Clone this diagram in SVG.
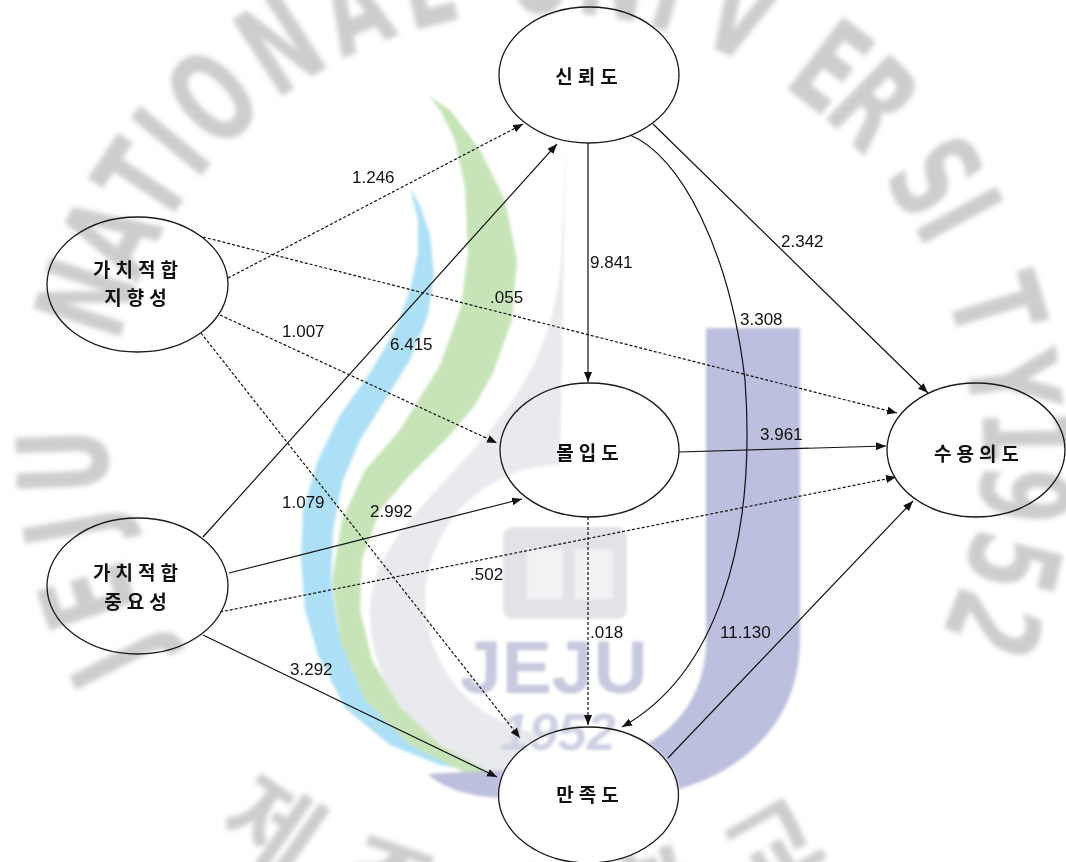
<svg xmlns="http://www.w3.org/2000/svg" width="1066" height="862" viewBox="0 0 1066 862">
  <defs>
    <marker id="arrow" markerUnits="userSpaceOnUse" markerWidth="11" markerHeight="9" refX="10" refY="4" orient="auto">
      <path d="M0,0 L10,4 L0,8 Z" fill="#111"/>
    </marker>
    <filter id="blurRing" x="-20%" y="-20%" width="140%" height="140%">
      <feGaussianBlur stdDeviation="2.8"/>
    </filter>
    <filter id="blurLogo" x="-10%" y="-10%" width="120%" height="120%">
      <feGaussianBlur stdDeviation="1.4"/>
    </filter>
  </defs>
  <style>
    .node ellipse { fill: none; stroke: #1a1a1a; stroke-width: 1.3; }
    .node text { font-family: "Noto Sans CJK KR", "Liberation Sans", sans-serif; font-size: 19px; font-weight: bold; fill: #111; text-anchor: middle; letter-spacing: 5px; }
    .edge { fill: none; stroke: #111; stroke-width: 1.2; marker-end: url(#arrow); }
    .dash { stroke-dasharray: 3 2; }
    .lbl { font-family: "Liberation Sans", Arial, sans-serif; font-size: 17px; fill: #111; }
    .ring { font-family: "DejaVu Sans Condensed", "Liberation Sans", Arial, sans-serif; font-weight: bold; font-size: 125px; fill: #cdcdcd; text-anchor: middle; }
    .ringKo { font-family: "Noto Sans CJK KR", sans-serif; font-weight: bold; font-size: 100px; fill: #cdcdcd; text-anchor: middle; }
  </style>

  <rect width="1066" height="862" fill="#ffffff"/>

  <!-- university seal in the background -->
  <g id="seal">
    <g id="seal-ring" filter="url(#blurRing)">
      <text class="ring" transform="rotate(243 540 445) translate(540 -33) scale(0.72 1)" y="45">J</text>
      <text class="ring" transform="rotate(251.5 540 445) translate(540 -33) scale(0.72 1)" y="45">E</text>
      <text class="ring" transform="rotate(260 540 445) translate(540 -33) scale(0.72 1)" y="45">J</text>
      <text class="ring" transform="rotate(268 540 445) translate(540 -33) scale(0.72 1)" y="45">U</text>
      <text class="ring" transform="rotate(288 540 445) translate(540 -33) scale(0.72 1)" y="45">N</text>
      <text class="ring" transform="rotate(296 540 445) translate(540 -33) scale(0.72 1)" y="45">A</text>
      <text class="ring" transform="rotate(303.5 540 445) translate(540 -33) scale(0.72 1)" y="45">T</text>
      <text class="ring" transform="rotate(309.5 540 445) translate(540 -33) scale(0.72 1)" y="45">I</text>
      <text class="ring" transform="rotate(316.7 540 445) translate(540 -33) scale(0.72 1)" y="45">O</text>
      <text class="ring" transform="rotate(327 540 445) translate(540 -33) scale(0.72 1)" y="45">N</text>
      <text class="ring" transform="rotate(337 540 445) translate(540 -33) scale(0.72 1)" y="45">A</text>
      <text class="ring" transform="rotate(346 540 445) translate(540 -33) scale(0.72 1)" y="45">L</text>
      <text class="ring" transform="rotate(0 540 445) translate(540 -33) scale(0.72 1)" y="45">U</text>
      <text class="ring" transform="rotate(9 540 445) translate(540 -33) scale(0.72 1)" y="45">N</text>
      <text class="ring" transform="rotate(16 540 445) translate(540 -33) scale(0.72 1)" y="45">I</text>
      <text class="ring" transform="rotate(25 540 445) translate(540 -33) scale(0.72 1)" y="45">V</text>
      <text class="ring" transform="rotate(37.5 540 445) translate(540 -33) scale(0.72 1)" y="45">E</text>
      <text class="ring" transform="rotate(44.4 540 445) translate(540 -33) scale(0.72 1)" y="45">R</text>
      <text class="ring" transform="rotate(55.8 540 445) translate(540 -33) scale(0.72 1)" y="45">S</text>
      <text class="ring" transform="rotate(61.3 540 445) translate(540 -33) scale(0.72 1)" y="45">I</text>
      <text class="ring" transform="rotate(73.1 540 445) translate(540 -33) scale(0.72 1)" y="45">T</text>
      <text class="ring" transform="rotate(82.3 540 445) translate(540 -33) scale(0.72 1)" y="45">Y</text>
      <text class="ring" transform="rotate(89 540 445) translate(540 -43) scale(0.72 1)" y="45">1</text>
      <text class="ring" transform="rotate(95.9 540 445) translate(540 -43) scale(0.72 1)" y="45">9</text>
      <text class="ring" transform="rotate(104 540 445) translate(540 -43) scale(0.72 1)" y="45">5</text>
      <text class="ring" transform="rotate(111.6 540 445) translate(540 -43) scale(0.72 1)" y="45">2</text>
      <text class="ringKo" transform="rotate(35 540 445) translate(540 910)" y="38">제</text>
      <text class="ringKo" transform="rotate(19 540 445) translate(540 910)" y="38">주</text>
      <text class="ringKo" transform="rotate(2.5 540 445) translate(540 910)" y="38">대</text>
      <text class="ringKo" transform="rotate(-14 540 445) translate(540 910)" y="38">학</text>
      <text class="ringKo" transform="rotate(-30 540 445) translate(540 910)" y="38">교</text>
    </g>
    <g id="seal-logo" filter="url(#blurLogo)">
      <path d="M566,140 L561,260 C556,330 530,385 482,440 C420,510 371,550 370,610 C369,700 440,772 545,790 L560,735 A135,135 0 0 1 560,465 Z" fill="#e9eaed"/>
      <polygon fill="#ade0f6" points="410,188 418,220 418,253 410,290 395,330 370,373 340,415 318,460 303,510 301,560 305,610 318,655 345,708 390,745 440,765 480,772 455,757 413,737 378,708 352,670 338,630 331,580 333,530 343,480 360,440 385,400 410,360 428,315 434,275 430,235 420,205"/>
      <polygon fill="#c7e4b8" points="428,95 440,110 455,140 465,187 468,253 461,307 440,365 400,430 365,470 342,520 332,580 340,640 365,700 410,745 470,775 530,790 490,772 440,745 400,707 372,660 360,610 362,560 380,510 410,475 450,435 475,405 493,373 512,320 517,260 505,200 480,150 450,110"/>
      <path d="M706,328 L800,328 L800,640 C800,730 730,795 610,800 L500,798 C470,796 445,790 428,774 C460,772 505,770 560,768 C650,762 706,715 706,640 Z" fill="#bdbfde"/>
      <ellipse cx="588.5" cy="795" rx="90" ry="68" fill="#ffffff"/>
      <rect x="503" y="527" width="124" height="92" rx="10" fill="#e2e3e7"/>
      <rect x="527" y="549" width="36" height="50" fill="#f2f2f4"/>
      <rect x="575" y="549" width="38" height="50" fill="#f2f2f4"/>
      <text x="460" y="693" font-family="Liberation Sans, Arial, sans-serif" font-weight="bold" font-size="75" fill="#c7c9de">JEJU</text>
      <text x="500" y="750" font-family="Liberation Sans, Arial, sans-serif" font-weight="bold" font-style="italic" font-size="52" fill="#cfd1e3">1952</text>
    </g>
  </g>

  <!-- paths between constructs -->
  <g id="connectors">
    <path class="edge dash" d="M228,278 L523,124"/>
    <path class="edge dash" d="M203,237 L897,413"/>
    <path class="edge dash" d="M220,315 L497,443"/>
    <path class="edge dash" d="M201,333 L520,738"/>
    <path class="edge" d="M203,537 L557,144"/>
    <path class="edge" d="M229,573 L522,499"/>
    <path class="edge dash" d="M220,612 L896,477"/>
    <path class="edge" d="M203,635 L497,777"/>
    <path class="edge" d="M588,143 L588,382"/>
    <path class="edge" d="M653,124 L928,393"/>
    <path class="edge" d="M630,135 C680,155 730,250 745,380 C757,545 715,675 622,727"/>
    <path class="edge" d="M679,452 L886,446"/>
    <path class="edge dash" d="M588,517 L588,725"/>
    <path class="edge" d="M668,758 L913,501"/>
  </g>

  <g id="labels">
    <text class="lbl" x="352" y="183">1.246</text>
    <text class="lbl" x="490" y="303">.055</text>
    <text class="lbl" x="282" y="337">1.007</text>
    <text class="lbl" x="390" y="350">6.415</text>
    <text class="lbl" x="282" y="508">1.079</text>
    <text class="lbl" x="370" y="517">2.992</text>
    <text class="lbl" x="470" y="580">.502</text>
    <text class="lbl" x="290" y="675">3.292</text>
    <text class="lbl" x="590" y="268">9.841</text>
    <text class="lbl" x="781" y="247">2.342</text>
    <text class="lbl" x="740" y="325">3.308</text>
    <text class="lbl" x="760" y="440">3.961</text>
    <text class="lbl" x="590" y="638">.018</text>
    <text class="lbl" x="720" y="638">11.130</text>
  </g>

  <g id="trust" class="node">
    <ellipse cx="589" cy="75" rx="90" ry="68"/>
    <text x="589" y="84">신뢰도</text>
  </g>
  <g id="value-orientation" class="node">
    <ellipse cx="137.5" cy="284.5" rx="90.5" ry="67.5"/>
    <text x="138" y="277">가치적합</text>
    <text x="138" y="305">지향성</text>
  </g>
  <g id="value-importance" class="node">
    <ellipse cx="137.5" cy="586" rx="90.5" ry="68"/>
    <text x="138" y="580">가치적합</text>
    <text x="138" y="609">중요성</text>
  </g>
  <g id="commitment" class="node">
    <ellipse cx="589.5" cy="450" rx="89.5" ry="67"/>
    <text x="590" y="460">몰입도</text>
  </g>
  <g id="acceptance" class="node">
    <ellipse cx="976" cy="450" rx="89" ry="67"/>
    <text x="979" y="461">수용의도</text>
  </g>
  <g id="satisfaction" class="node">
    <ellipse cx="588.5" cy="795" rx="90" ry="68"/>
    <text x="590" y="802">만족도</text>
  </g>
</svg>
